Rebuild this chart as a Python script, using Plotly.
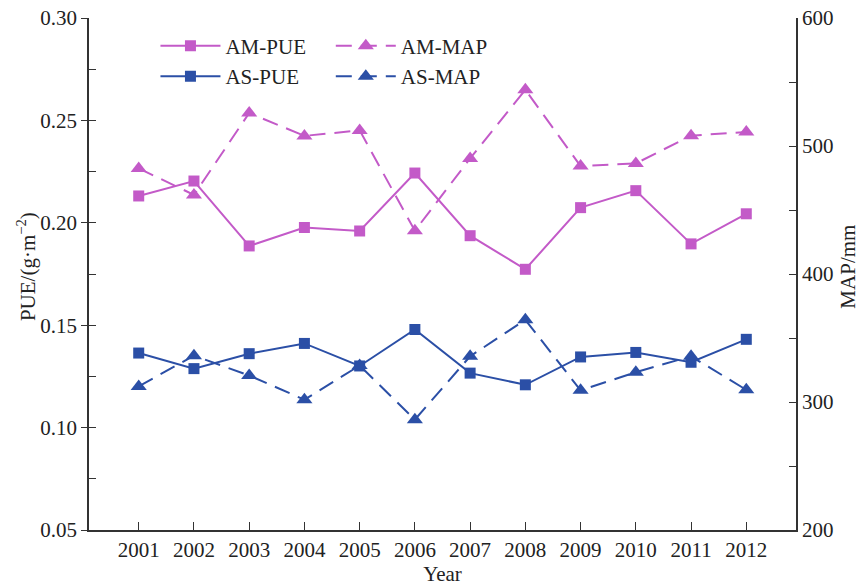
import plotly.graph_objects as go

years = [2001, 2002, 2003, 2004, 2005, 2006, 2007, 2008, 2009, 2010, 2011, 2012]
am_pue = [0.2131, 0.2204, 0.1887, 0.1977, 0.1960, 0.2243, 0.1937, 0.1773, 0.2074, 0.2157, 0.1897, 0.2044]
as_pue = [0.1364, 0.1288, 0.1361, 0.1411, 0.1301, 0.1479, 0.1266, 0.1209, 0.1345, 0.1367, 0.1319, 0.1431]
am_map = [482.5, 461.8, 525.8, 507.9, 512.2, 433.8, 490.3, 543.9, 484.3, 486.4, 508.1, 511.0]
as_map = [312.2, 336.2, 320.7, 301.8, 328.5, 286.2, 335.7, 364.2, 309.1, 323.3, 335.7, 309.5]

MAG = "#C35AC8"
BLUE = "#2B4FA6"
FONT = "Liberation Serif"
FS = 21

fig = go.Figure()
fig.add_trace(go.Scatter(x=years, y=am_pue, name="AM-PUE", mode="lines+markers",
                         line=dict(color=MAG, width=2), marker=dict(symbol="square", size=11, color=MAG),
                         legend="legend"))
fig.add_trace(go.Scatter(x=years, y=as_pue, name="AS-PUE", mode="lines+markers",
                         line=dict(color=BLUE, width=2), marker=dict(symbol="square", size=11, color=BLUE),
                         legend="legend"))
fig.add_trace(go.Scatter(x=years, y=am_map, name="AM-MAP", mode="lines+markers", yaxis="y2",
                         line=dict(color=MAG, width=2, dash="16px,9px"),
                         marker=dict(symbol="triangle-up", size=14, color=MAG),
                         legend="legend2"))
fig.add_trace(go.Scatter(x=years, y=as_map, name="AS-MAP", mode="lines+markers", yaxis="y2",
                         line=dict(color=BLUE, width=2, dash="16px,9px"),
                         marker=dict(symbol="triangle-up", size=14, color=BLUE),
                         legend="legend2"))
# helper invisible trace for inner tick marks on left axis
fig.add_trace(go.Scatter(x=[years[0]], y=[am_pue[0]], yaxis="y3", mode="markers",
                         marker=dict(opacity=0), showlegend=False, hoverinfo="skip"))

# the page body has an 8px margin, so the figure is made 8px smaller on each axis
fig.update_layout(
    width=856, height=579,
    margin=dict(l=81, r=68, t=10, b=57, autoexpand=False),
    paper_bgcolor="white", plot_bgcolor="white",
    font=dict(family=FONT, size=FS, color="#222"),
    xaxis=dict(range=[2000.1, 2012.9], tickvals=years, ticks="inside", ticklen=8,
               tickcolor="#333", showline=True, linecolor="#333", linewidth=1.5,
               showgrid=False, zeroline=False, automargin=False, ticklabeloverflow="allow",
               title=dict(text="Year", standoff=0, font=dict(size=FS))),
    yaxis=dict(range=[0.05, 0.30], dtick=0.05, tickformat=".2f", ticks="outside", ticklen=6,
               tickcolor="#333", showline=True, linecolor="#333", linewidth=1.5,
               showgrid=False, zeroline=False, automargin=False, ticklabeloverflow="allow"),
    yaxis3=dict(range=[0.05, 0.30], dtick=0.025, ticks="inside", ticklen=7, tickcolor="#333",
                showticklabels=False, showgrid=False, zeroline=False, showline=False,
                overlaying="y", side="left", automargin=False),
    yaxis2=dict(range=[200, 600], dtick=100, ticks="inside", ticklen=7, tickcolor="#333",
                minor=dict(dtick=50, ticks="inside", ticklen=7, tickcolor="#333"),
                showline=True, linecolor="#333", linewidth=1.5, ticklabeloverflow="allow",
                showgrid=False, zeroline=False, overlaying="y", side="right", automargin=False),
    legend=dict(x=0.094, y=0.985, xanchor="left", yanchor="top", bgcolor="rgba(0,0,0,0)",
                font=dict(size=FS), tracegroupgap=0, itemwidth=60),
    legend2=dict(x=0.342, y=0.985, xanchor="left", yanchor="top", bgcolor="rgba(0,0,0,0)",
                 font=dict(size=FS), tracegroupgap=0, itemwidth=60),
    showlegend=True,
    annotations=[
        dict(text="PUE/(g·m<sup>−2</sup>)", x=-0.088, y=0.515, xref="paper", yref="paper",
             textangle=-90, showarrow=False, xanchor="center", yanchor="middle", font=dict(size=FS)),
        dict(text="MAP/mm", x=1.074, y=0.515, xref="paper", yref="paper",
             textangle=-90, showarrow=False, xanchor="center", yanchor="middle", font=dict(size=FS)),
    ],
)

fig.write_html("out.html")
